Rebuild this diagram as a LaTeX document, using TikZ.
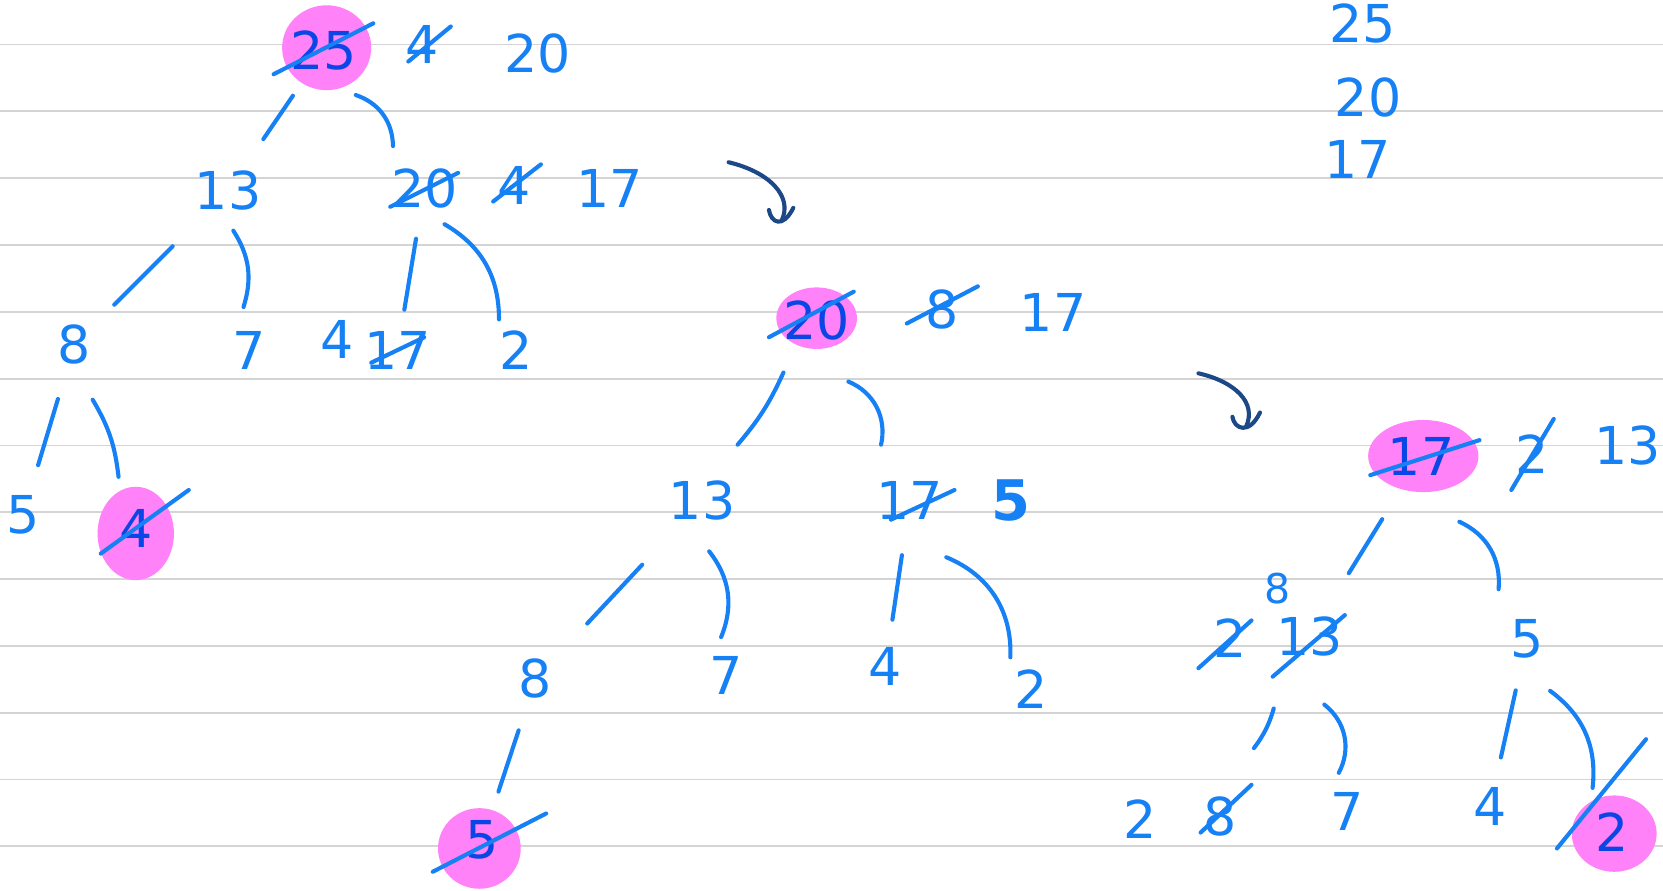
\documentclass[tikz,border=0pt]{standalone}
\usepackage{fontspec}
\setmainfont{DejaVu Sans}
\usetikzlibrary{calc}
\definecolor{ink}{RGB}{22,128,245}
\definecolor{inkdark}{RGB}{10,70,230}
\definecolor{hl}{RGB}{255,130,248}
\definecolor{navy}{RGB}{28,72,135}
\definecolor{rulegray}{RGB}{212,212,212}
\begin{document}
\begin{tikzpicture}[x=0.01cm,y=-0.01cm,
  num/.style={text=ink,font=\fontsize{14}{16}\selectfont,inner sep=0pt},
  numhl/.style={text=inkdark,font=\fontsize{14}{16}\selectfont,inner sep=0pt},
  small/.style={text=ink,font=\fontsize{11}{13}\selectfont,inner sep=0pt},
  edge/.style={draw=ink,line width=1.1pt,line cap=round},
  strike/.style={draw=ink,line width=1.1pt,line cap=round},
  arr/.style={draw=navy,line width=1.1pt,line cap=round,line join=round},
  hlt/.style={fill=hl,draw=none}]
\useasboundingbox (0,0) rectangle (1568,840);
\fill[white] (0,0) rectangle (1568,840);
\foreach \y in {42,105,168,231,294,357,420,483,546,609,672,735,798}
  \draw[rulegray,line width=0.5pt] (0,\y) -- (1568,\y);

% highlights
\fill[hlt] (308,45) ellipse [x radius=42, y radius=40];
\fill[hlt] (128,503) ellipse [x radius=36, y radius=44];
\fill[hlt] (770,300) ellipse [x radius=38, y radius=29];
\fill[hlt] (452,800) ellipse [x radius=39, y radius=38];
\fill[hlt] (1342,430) ellipse [x radius=52, y radius=34];
\fill[hlt] (1522,786) ellipse [x radius=40, y radius=36];

% ---------- tree 1 ----------
\node[numhl] (a1) at (305,48) {25};
\node[num] (a1b) at (398,42) {4};
\node[num] (a1c) at (507,50) {20};
\node[num] (a2) at (215,180) {13};
\node[num] (a3) at (400,178) {20};
\node[num] (a3b) at (485,175) {4};
\node[num] (a3c) at (575,178) {17};
\node[num] (a4) at (70,325) {8};
\node[num] (a5) at (235,330) {7};
\node[num] (a6x) at (318,320) {4};
\node[num] (a6) at (375,330) {17};
\node[num] (a7) at (487,330) {2};
\node[num] (a8) at (22,485) {5};
\node[numhl] (a9) at (128,498) {4};

\draw[edge] ($(a1)!0.32!(a2)$) -- ($(a1)!0.63!(a2)$);
\draw[edge] ($(a1)!0.32!(a3)$) to[bend left=35] ($(a1)!0.69!(a3)$);
\draw[edge] ($(a2)!0.36!(a4)$) -- ($(a2)!0.74!(a4)$);
\draw[edge] ($(a2)!0.25!(a5)$) to[bend left=25] ($(a2)!0.73!(a5)$);
\draw[edge] ($(a3)!0.31!(a6)$) -- ($(a3)!0.75!(a6)$);
\draw[edge] ($(a3)!0.22!(a7)$) to[bend left=30] ($(a3)!0.81!(a7)$);
\draw[edge] ($(a4)!0.32!(a8)$) -- ($(a4)!0.71!(a8)$);
\draw[edge] ($(a4)!0.30!(a9)$) to[bend left=12] ($(a4)!0.72!(a9)$);

\draw[strike] ($(a1)+(-47,22)$) -- ($(a1)+(47,-26)$);
\draw[strike] ($(a1b)+(-13,16)$) -- ($(a1b)+(27,-17)$);
\draw[strike] ($(a3)+(-32,17)$) -- ($(a3)+(32,-15)$);
\draw[strike] ($(a3b)+(-20,15)$) -- ($(a3b)+(25,-20)$);
\draw[strike] ($(a6)+(-25,12)$) -- ($(a6)+(25,-12)$);
\draw[strike] ($(a9)+(-33,24)$) -- ($(a9)+(50,-36)$);

% ---------- tree 2 ----------
\node[numhl] (b1) at (770,302) {20};
\node[num] (b1b) at (888,292) {8};
\node[num] (b1c) at (993,295) {17};
\node[num] (b2) at (662,472) {13};
\node[num] (b3) at (858,472) {17};
\node[num,font=\fontsize{15}{17}\selectfont\bfseries] (b3b) at (953,472) {5};
\node[num] (b4) at (505,640) {8};
\node[num] (b5) at (685,637) {7};
\node[num] (b6) at (835,628) {4};
\node[num] (b7) at (972,650) {2};
\node[numhl] (b8) at (455,792) {5};

\draw[edge] ($(b1)!0.29!(b2)$) to[bend left=8] ($(b1)!0.69!(b2)$);
\draw[edge] ($(b1)!0.34!(b3)$) to[bend left=40] ($(b1)!0.69!(b3)$);
\draw[edge] ($(b2)!0.36!(b4)$) -- ($(b2)!0.69!(b4)$);
\draw[edge] ($(b2)!0.29!(b5)$) to[bend left=30] ($(b2)!0.78!(b5)$);
\draw[edge] ($(b3)!0.33!(b6)$) -- ($(b3)!0.72!(b6)$);
\draw[edge] ($(b3)!0.30!(b7)$) to[bend left=35] ($(b3)!0.83!(b7)$);
\draw[edge] ($(b4)!0.32!(b8)$) -- ($(b4)!0.70!(b8)$);

\draw[strike] ($(b1)+(-45,16)$) -- ($(b1)+(35,-27)$);
\draw[strike] ($(b1b)+(-33,13)$) -- ($(b1b)+(34,-22)$);
\draw[strike] ($(b3)+(-18,18)$) -- ($(b3)+(42,-10)$);
\draw[strike] ($(b8)+(-47,30)$) -- ($(b8)+(60,-25)$);

% ---------- tree 3 ----------
\node[numhl] (c1) at (1340,430) {17};
\node[num] (c1b) at (1445,428) {2};
\node[num] (c1c) at (1535,420) {13};
\node[num] (c2x) at (1160,602) {2};
\node[small] (c2s) at (1205,555) {8};
\node[num] (c2) at (1235,600) {13};
\node[num] (c3) at (1440,602) {5};
\node[num] (c4x) at (1075,772) {2};
\node[num] (c4) at (1150,770) {8};
\node[num] (c5) at (1270,765) {7};
\node[num] (c6) at (1405,760) {4};
\node[numhl] (c7) at (1520,785) {2};

\draw[edge] ($(c1)!0.35!(c2)$) -- ($(c1)!0.65!(c2)$);
\draw[edge] ($(c1)!0.36!(c3)$) to[bend left=35] ($(c1)!0.73!(c3)$);
\draw[edge] ($(c2)!0.40!(c4)$) to[bend left=10] ($(c2)!0.62!(c4)$);
\draw[edge] ($(c2)!0.39!(c5)$) to[bend left=40] ($(c2)!0.78!(c5)$);
\draw[edge] ($(c3)!0.31!(c6)$) -- ($(c3)!0.71!(c6)$);
\draw[edge] ($(c3)!0.27!(c7)$) to[bend left=30] ($(c3)!0.77!(c7)$);
\draw[strike] ($(c7)+(32,-88)$) -- ($(c7)+(-52,15)$);

\draw[strike] ($(c1)+(-48,18)$) -- ($(c1)+(55,-15)$);
\draw[strike] ($(c1b)+(-20,34)$) -- ($(c1b)+(20,-33)$);
\draw[strike] ($(c2x)+(-30,28)$) -- ($(c2x)+(20,-17)$);
\draw[strike] ($(c2)+(-35,38)$) -- ($(c2)+(33,-20)$);
\draw[strike] ($(c4)+(-18,15)$) -- ($(c4)+(30,-30)$);

% ---------- list ----------
\node[num] (l1) at (1285,22) {25};
\node[num] (l2) at (1290,92) {20};
\node[num] (l3) at (1280,150) {17};

% ---------- arrows ----------
\draw[arr] (687,153) .. controls (725,162) and (748,185) .. (737,208);
\draw[arr] (725,198) .. controls (727,210) and (738,216) .. (748,196);
\draw[arr] (1130,352) .. controls (1165,360) and (1185,380) .. (1175,402);
\draw[arr] (1162,393) .. controls (1164,405) and (1178,410) .. (1188,389);
\end{tikzpicture}
\end{document}
